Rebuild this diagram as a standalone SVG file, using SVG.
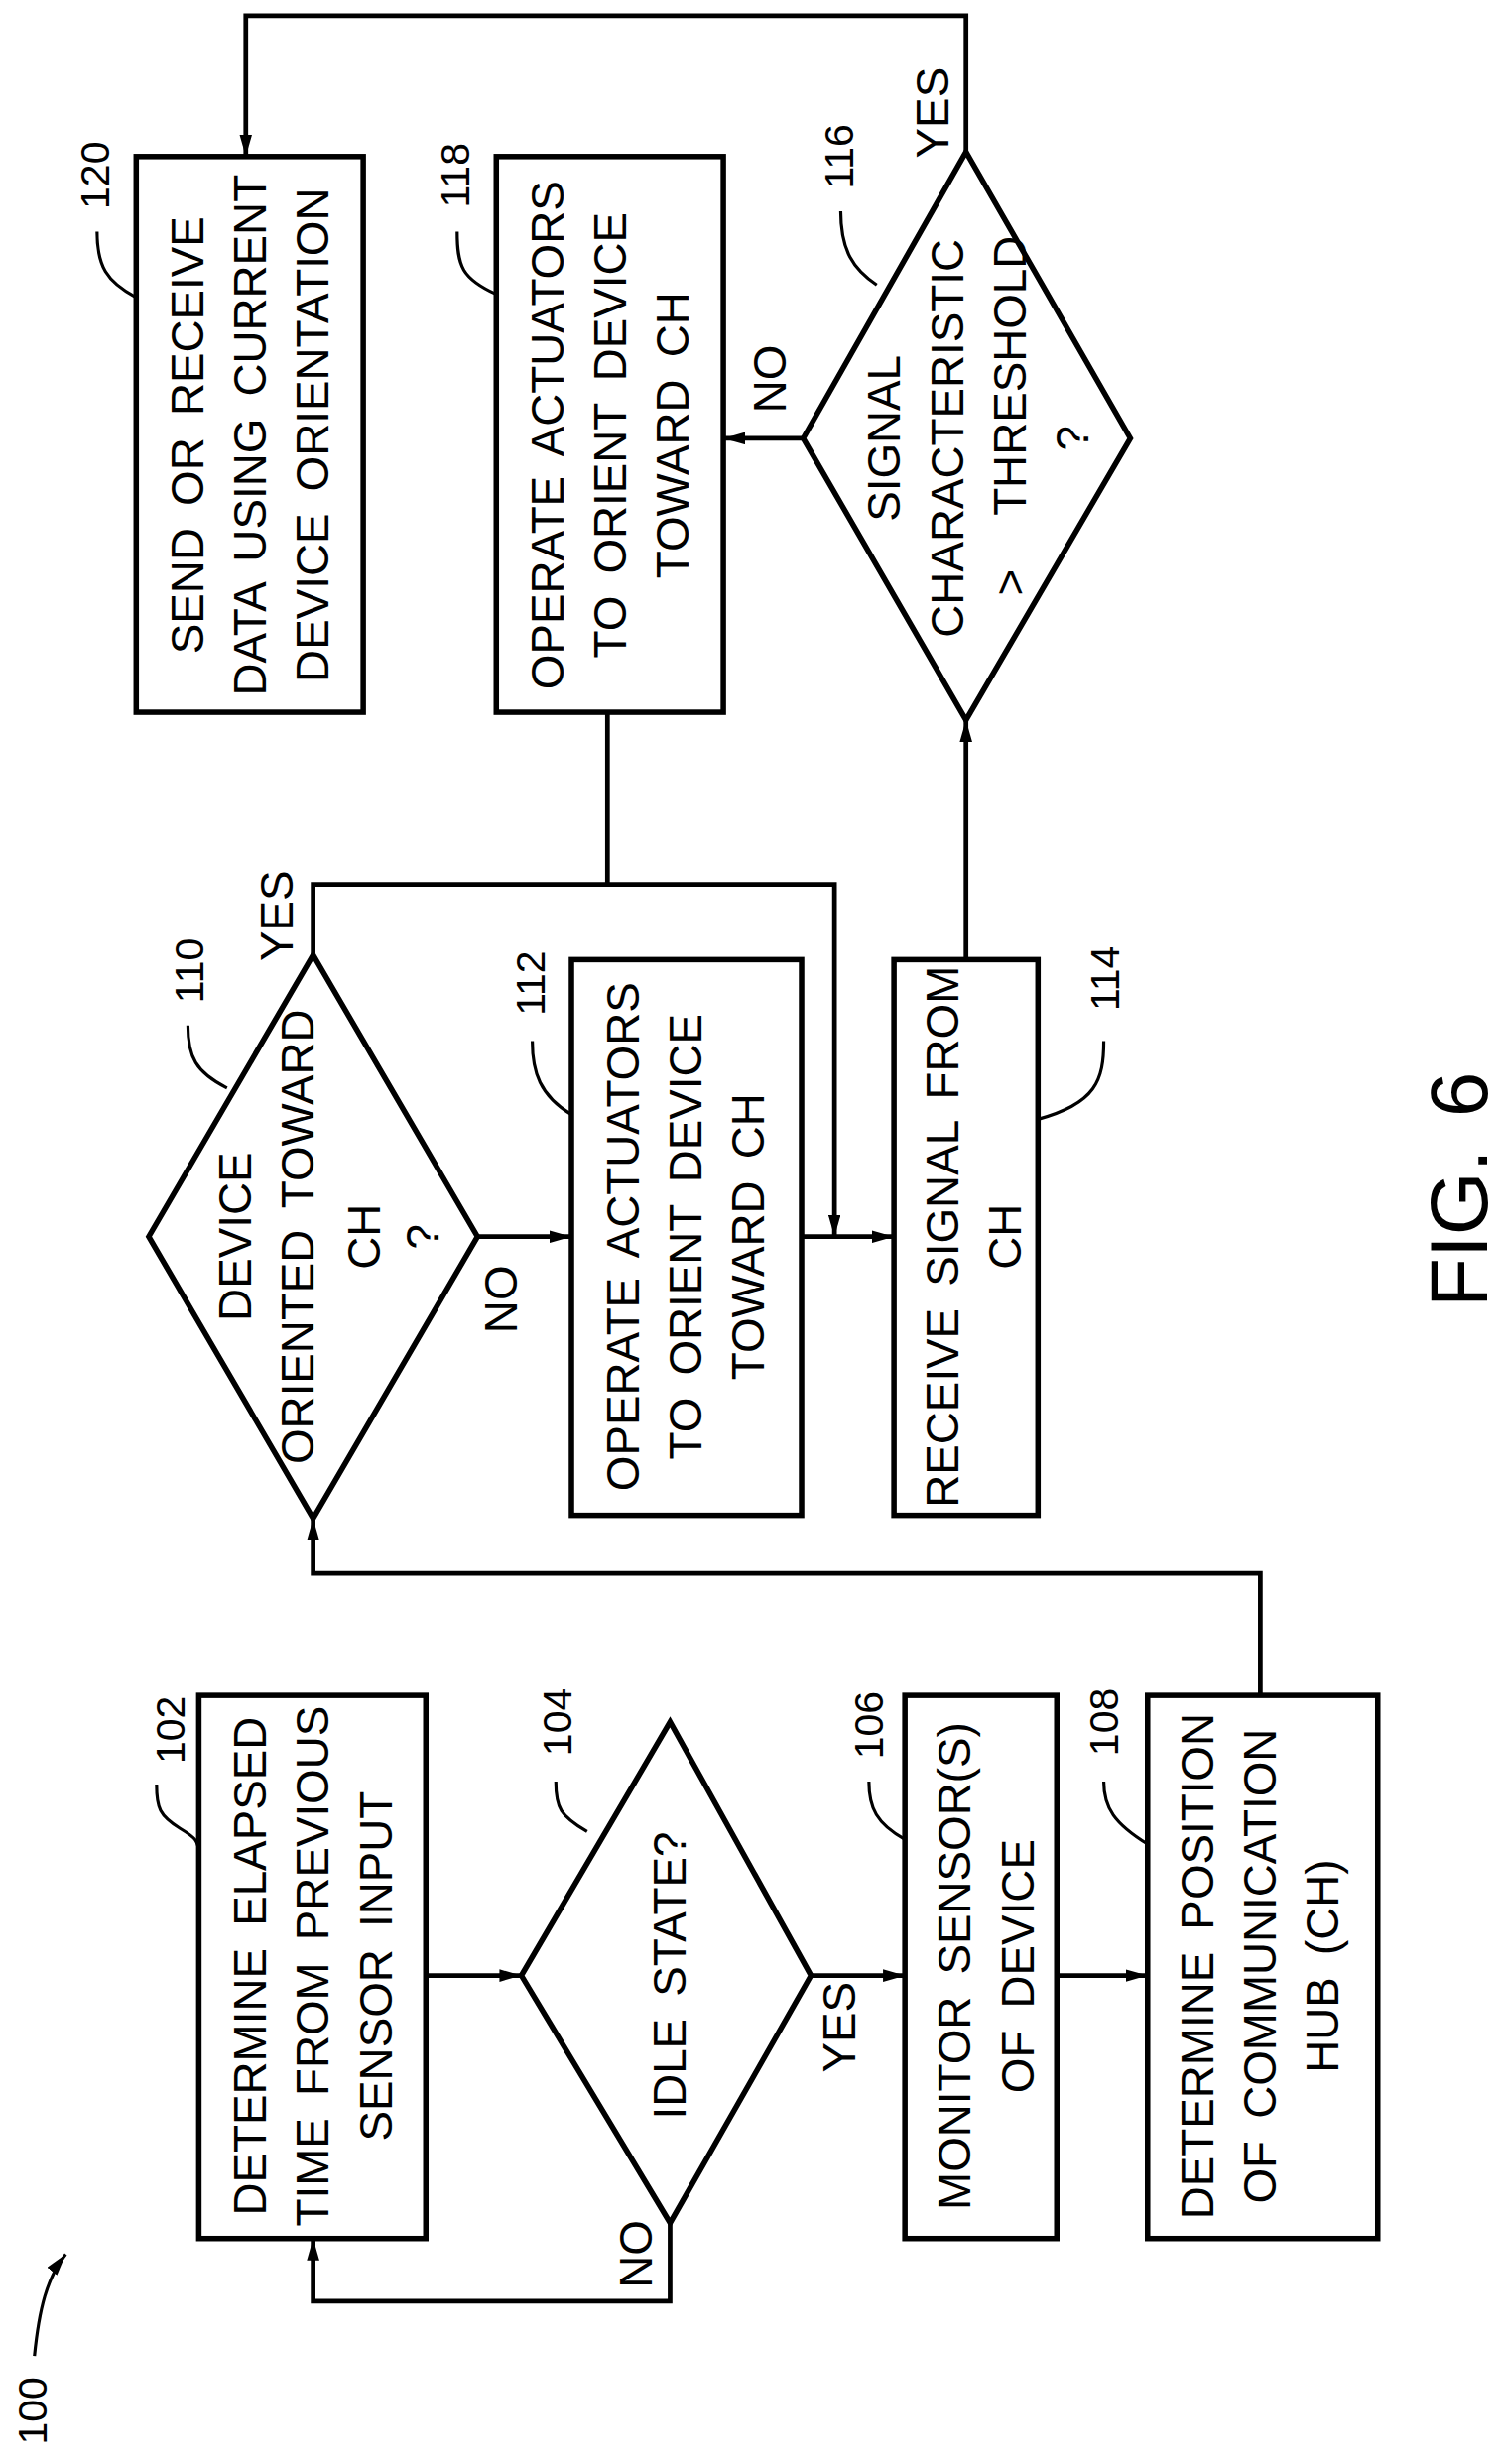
<svg xmlns="http://www.w3.org/2000/svg" width="1515" height="2484" viewBox="0 0 1515 2484">
<style>
.b{fill:none;stroke:#000;stroke-width:3.5}
.c{fill:none;stroke:#000;stroke-width:3}
.l{fill:none;stroke:#000;stroke-width:2}
text{font-family:"Liberation Sans",Arial,sans-serif;font-size:29px;fill:#000;text-anchor:middle;word-spacing:6px}
.n{font-size:26px}
</style>
<defs><marker id="a" viewBox="0 0 10 10" refX="10" refY="5" markerWidth="14" markerHeight="8" orient="auto" markerUnits="userSpaceOnUse" preserveAspectRatio="none"><path d="M0,0L10,5L0,10z"/></marker></defs>
<rect width="1515" height="2484" fill="#fff"/>
<g transform="scale(1.578125)">
<g id="n102"><rect class="b" x="127" y="1083" width="145" height="347"/>
<text transform="translate(170,1256) rotate(-90)">DETERMINE ELAPSED</text>
<text transform="translate(210,1256) rotate(-90)">TIME FROM  PREVIOUS</text>
<text transform="translate(250,1256) rotate(-90)">SENSOR INPUT</text>
<text class="n" transform="translate(118,1105) rotate(-90)">102</text>
<path class="l" d="M100,1140 C100,1155 102,1160 115,1168 C125,1174 127,1176 127,1185"/></g>
<g id="n104"><path class="b" d="M428,1100L518,1262L428,1420L333,1262Z"/>
<text transform="translate(438,1262) rotate(-90)">IDLE STATE?</text>
<text class="n" transform="translate(365,1100) rotate(-90)">104</text>
<path class="l" d="M355,1138 C355,1155 358,1160 375,1170"/></g>
<g id="n106"><rect class="b" x="578" y="1083" width="97" height="347"/>
<text transform="translate(620,1256) rotate(-90)">MONITOR SENSOR(S)</text>
<text transform="translate(660,1256) rotate(-90)">OF DEVICE</text>
<text class="n" transform="translate(564,1102) rotate(-90)">106</text>
<path class="l" d="M555,1138 C555,1155 560,1165 578,1175"/></g>
<g id="n108"><rect class="b" x="733" y="1083" width="147" height="347"/>
<text transform="translate(775,1256) rotate(-90)">DETERMINE POSITION</text>
<text transform="translate(815,1256) rotate(-90)">OF COMMUNICATION</text>
<text transform="translate(855,1256) rotate(-90)">HUB (CH)</text>
<text class="n" transform="translate(714,1100) rotate(-90)">108</text>
<path class="l" d="M705,1138 C705,1155 712,1165 733,1178"/></g>
<g id="n110"><path class="b" d="M200,610L305,790L200,970L95,790Z"/>
<text transform="translate(160,790) rotate(-90)">DEVICE</text>
<text transform="translate(200,790) rotate(-90)">ORIENTED TOWARD</text>
<text transform="translate(243,790) rotate(-90)">CH</text>
<text transform="translate(280,790) rotate(-90)">?</text>
<text class="n" transform="translate(130,620) rotate(-90)">110</text>
<path class="l" d="M120,655 C120,675 125,685 145,695"/></g>
<g id="n112"><rect class="b" x="365" y="613" width="147" height="355"/>
<text transform="translate(408,790) rotate(-90)">OPERATE ACTUATORS</text>
<text transform="translate(448,790) rotate(-90)">TO ORIENT DEVICE</text>
<text transform="translate(488,790) rotate(-90)">TOWARD CH</text>
<text class="n" transform="translate(348,628) rotate(-90)">112</text>
<path class="l" d="M340,665 C340,685 345,700 365,712"/></g>
<g id="n114"><rect class="b" x="571" y="613" width="92" height="355"/>
<text transform="translate(612,790) rotate(-90)">RECEIVE SIGNAL FROM</text>
<text transform="translate(652,790) rotate(-90)">CH</text>
<text class="n" transform="translate(715,625) rotate(-90)">114</text>
<path class="l" d="M705,665 C705,690 700,705 663,715"/></g>
<g id="n116"><path class="b" d="M617,97L722,280L617,460L513,280Z"/>
<text transform="translate(575,280) rotate(-90)">SIGNAL</text>
<text transform="translate(615,280) rotate(-90)">CHARACTERISTIC</text>
<text transform="translate(655,372) rotate(-90)">&gt;</text>
<text transform="translate(655,240) rotate(-90)">THRESHOLD</text>
<text transform="translate(695,280) rotate(-90)">?</text>
<text class="n" transform="translate(545,100) rotate(-90)">116</text>
<path class="l" d="M537,135 C537,160 545,172 560,182"/></g>
<g id="n118"><rect class="b" x="317" y="100" width="145" height="355"/>
<text transform="translate(360,278) rotate(-90)">OPERATE ACTUATORS</text>
<text transform="translate(400,278) rotate(-90)">TO ORIENT DEVICE</text>
<text transform="translate(440,278) rotate(-90)">TOWARD CH</text>
<text class="n" transform="translate(300,112) rotate(-90)">118</text>
<path class="l" d="M292,148 C292,170 295,178 317,188"/></g>
<g id="n120"><rect class="b" x="87" y="100" width="145" height="355"/>
<text transform="translate(130,278) rotate(-90)">SEND OR RECEIVE</text>
<text transform="translate(170,278) rotate(-90)">DATA USING CURRENT</text>
<text transform="translate(210,278) rotate(-90)">DEVICE ORIENTATION</text>
<text class="n" transform="translate(70,112) rotate(-90)">120</text>
<path class="l" d="M62,148 C62,170 68,180 87,190"/></g>
<g id="connectors">
<path class="c" d="M272,1262H333" marker-end="url(#a)"/>
<path class="c" d="M428,1420V1470H200V1430" marker-end="url(#a)"/>
<path class="c" d="M518,1262H578" marker-end="url(#a)"/>
<path class="c" d="M675,1262H733" marker-end="url(#a)"/>
<path class="c" d="M805,1083V1005H200V970" marker-end="url(#a)"/>
<path class="c" d="M305,790H365" marker-end="url(#a)"/>
<path class="c" d="M512,790H571" marker-end="url(#a)"/>
<path class="c" d="M200,610V565H533V790" marker-end="url(#a)"/>
<path class="c" d="M388,455V565"/>
<path class="c" d="M617,613V460" marker-end="url(#a)"/>
<path class="c" d="M513,280H462" marker-end="url(#a)"/>
<path class="c" d="M617,97V10H157V100" marker-end="url(#a)"/>
<text transform="translate(416,1440) rotate(-90)">NO</text>
<text transform="translate(546,1295) rotate(-90)">YES</text>
<text transform="translate(330,830) rotate(-90)">NO</text>
<text transform="translate(187,585) rotate(-90)">YES</text>
<text transform="translate(502,242) rotate(-90)">NO</text>
<text transform="translate(606,72) rotate(-90)">YES</text>
<text class="n" transform="translate(30,1540) rotate(-90)">100</text>
<path class="l" d="M22,1505 C25,1475 30,1455 42,1440" marker-end="url(#a)"/>
<text style="font-size:52px" transform="translate(950,760) rotate(-90)">FIG. 6</text>
</g>
</g>
</svg>
